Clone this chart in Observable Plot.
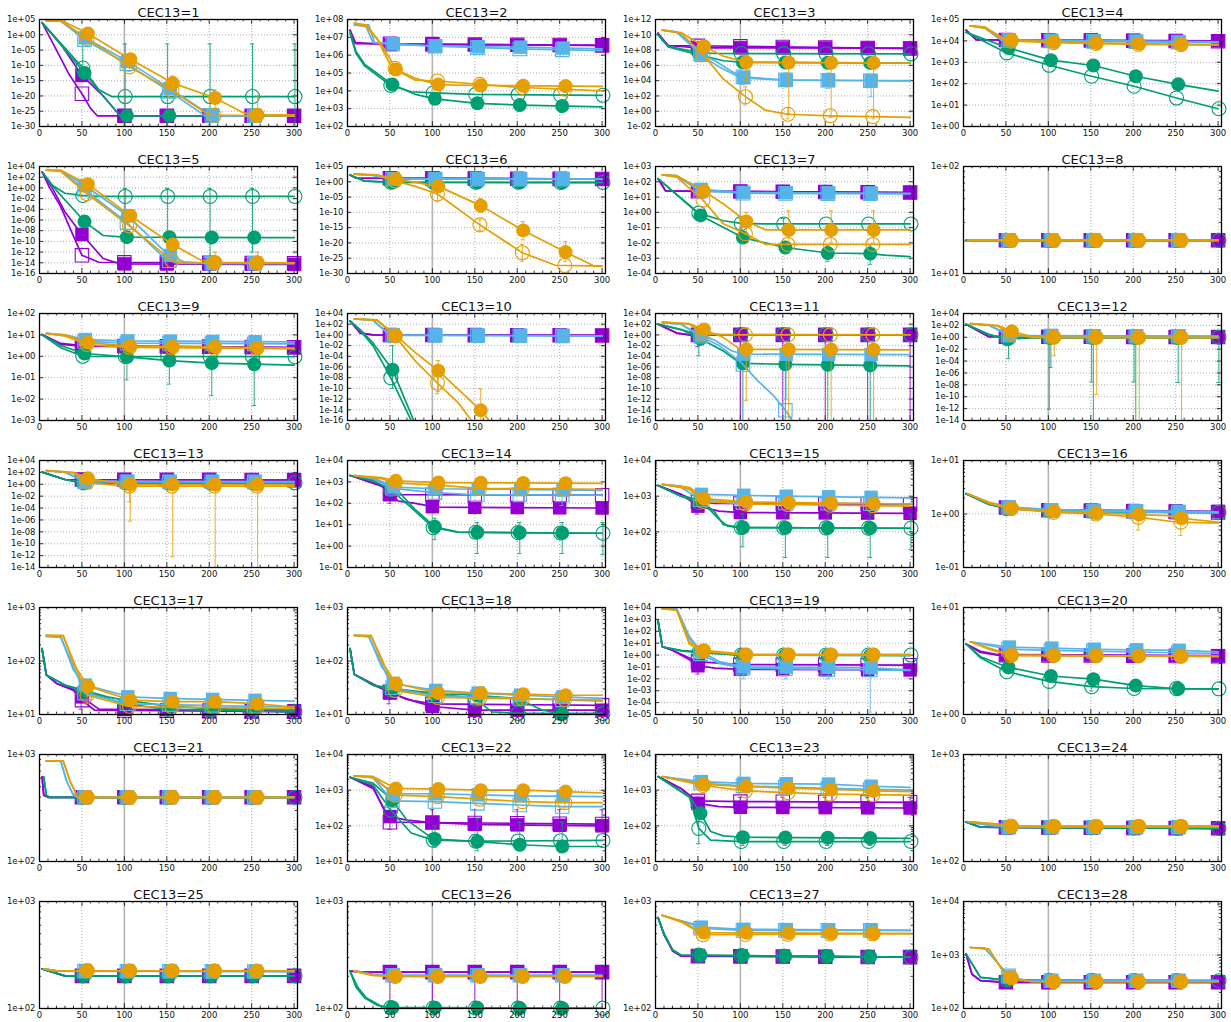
<!DOCTYPE html>
<html><head><meta charset="utf-8">
<script src="https://cdn.jsdelivr.net/npm/d3@7"></script>
<script src="https://cdn.jsdelivr.net/npm/@observablehq/plot@0.6"></script>
<style>
body{margin:0;background:#fff;}
#wrap{position:relative;width:1231px;height:1022px;overflow:hidden;}
#wrap svg{position:absolute;}
</style></head><body><div id="wrap"></div>
<script>
// ---- labels / axes ----
const titles = ["CEC13=1","CEC13=2","CEC13=3","CEC13=4","CEC13=5","CEC13=6","CEC13=7","CEC13=8","CEC13=9","CEC13=10","CEC13=11","CEC13=12","CEC13=13","CEC13=14","CEC13=15","CEC13=16","CEC13=17","CEC13=18","CEC13=19","CEC13=20","CEC13=21","CEC13=22","CEC13=23","CEC13=24","CEC13=25","CEC13=26","CEC13=27","CEC13=28"];
// [lowest exponent, highest exponent, exponent step] of the y tick labels
const yRanges = [[-30,5,5],[2,8,1],[-2,12,2],[0,5,1],[-16,4,2],[-30,5,5],[-4,3,1],[1,2,1],[-3,2,1],[-16,4,2],[-16,4,2],[-14,4,2],[-14,4,2],[-1,4,1],[1,4,1],[-1,1,1],[1,3,1],[1,3,1],[-5,4,1],[0,1,1],[2,3,1],[1,4,1],[1,4,1],[2,3,1],[2,3,1],[2,3,1],[2,3,1],[2,4,1]];
const xTicks = [0,50,100,150,200,250,300];
const seriesKeys = ["P","p","G","g","B","b","O","o"];
const seriesColor = ["#9400d3","#9400d3","#009e73","#009e73","#56b4e9","#56b4e9","#e69f00","#e69f00"];
const seriesShape = ["square","square","circle","circle","square","square","circle","circle"];
const seriesFilled = [true,false,true,false,true,false,true,false];
const markerShift = [0,0,3,1,4,3,7,6];

// ---- data: per panel, 8 series [P,p,G,g,B,b,O,o], each as x, log10(y) pairs ----
const f1 = [
 [3,4, 25,-3, 50,-13.3, 75,-20, 95,-26.5, 300,-26.5],
 [3,4, 20,-5, 35,-13, 50,-19.3, 60,-24, 68,-26.5, 300,-26.5],
 [3,4, 50,-11.5, 75,-20, 95,-26.5, 300,-26.5],
 [3,4, 50,-10.5, 70,-18, 85,-20.2, 300,-20.2],
 [8,4.5, 25,4.5, 54,-1, 104,-8.7, 154,-17.6, 200,-26, 210,-26.5, 300,-26.5],
 [8,4.5, 25,4.5, 53,-1.6, 103,-9.5, 153,-18.5, 195,-26.5, 300,-26.5],
 [8,4.8, 25,4.8, 57,0.4, 107,-8, 157,-15.8, 207,-20.7, 240,-25.5, 257,-26.2, 300,-26.2],
 [8,4.8, 25,4.6, 56,-1.2, 106,-10.5, 156,-18.2, 200,-26.3, 300,-26.5]];
const f2 = [
 [3,7.4, 8,6.7, 50,6.6, 300,6.55],
 [3,7.4, 10,6.65, 300,6.55],
 [3,7.3, 10,6.2, 20,5.5, 53,4.35, 80,3.8, 103,3.55, 153,3.3, 203,3.2, 300,3.1],
 [3,7.2, 10,6.1, 20,5.4, 51,4.3, 75,3.95, 100,3.88, 150,3.8, 300,3.75],
 [8,7.7, 25,7.7, 32,6.7, 55,6.65, 105,6.5, 205,6.45, 300,6.35],
 [8,7.7, 22,7.6, 30,6.7, 55,6.6, 105,6.5, 200,6.35, 300,6.25],
 [8,7.8, 22,7.7, 40,6.6, 50,5.8, 57,5.2, 80,4.7, 107,4.35, 157,4.3, 300,4.25],
 [8,7.8, 22,7.6, 35,6.9, 50,5.5, 60,5.1, 80,4.6, 106,4.55, 200,4.2, 300,4.0]];
const f3 = [
 [3,10.2, 8,9.3, 15,8.6, 50,8.3, 300,8.25],
 [3,10.2, 15,8.6, 300,8.2],
 [3,10, 15,8.4, 50,7.4, 80,6.6, 103,6.4, 300,6.3],
 [3,10, 15,8.5, 50,7.7, 70,7.55, 300,7.5],
 [8,10.6, 25,10.4, 45,8.5, 54,7.3, 75,5.8, 100,4.4, 150,4.05, 300,4.0],
 [8,10.6, 25,10.3, 45,8.3, 53,7.5, 70,6.6, 90,5.2, 103,4.5, 150,4.1, 300,3.95],
 [8,10.6, 30,10.3, 57,8.5, 80,7.2, 100,6.6, 107,6.4, 300,6.3],
 [8,10.6, 30,10.2, 57,7.3, 80,4.2, 106,1.9, 130,0.1, 156,-0.4, 206,-0.6, 300,-0.8]];
const f4 = [
 [3,4.5, 15,4.06, 300,4.0],
 [3,4.5, 15,4.05, 300,3.98],
 [3,4.4, 53,3.67, 103,3.1, 153,2.85, 203,2.35, 253,1.97, 300,1.65],
 [3,4.4, 51,3.44, 101,2.86, 151,2.35, 201,1.88, 251,1.33, 300,0.83],
 [8,4.7, 25,4.65, 45,4.05, 300,3.95],
 [8,4.7, 25,4.6, 45,4.02, 300,3.92],
 [8,4.7, 25,4.65, 50,4.05, 107,3.95, 157,3.9, 207,3.87, 257,3.84, 300,3.83],
 [8,4.7, 25,4.6, 50,4.0, 106,3.92, 206,3.84, 300,3.8]];
const f5 = [
 [3,3, 15,0, 30,-4.5, 50,-8.7, 75,-13.2, 95,-14.2, 300,-14.3],
 [3,3, 12,0, 25,-3.5, 40,-9, 50,-12.6, 70,-13.9, 300,-14.1],
 [3,3, 20,-0.5, 40,-4, 53,-6.3, 75,-8.9, 100,-9.2, 300,-9.3],
 [3,3, 15,0.5, 30,-1, 50,-1.4, 70,-1.6, 300,-1.6],
 [8,3.3, 25,3.3, 54,0.4, 104,-5.2, 150,-12.3, 170,-13.8, 200,-14.1, 300,-14.1],
 [8,3.3, 25,3.2, 53,-0.3, 103,-6.5, 150,-13.5, 165,-14.1, 300,-14.1],
 [8,3.3, 25,3.3, 57,0.7, 107,-5.2, 157,-10.6, 190,-13.5, 207,-13.9, 300,-14],
 [8,3.3, 25,3.1, 56,-1.1, 106,-7.1, 156,-13.6, 170,-14, 300,-14.1]];
const f6 = [
 [3,2.2, 10,1.2, 300,0.9],
 [3,2.2, 10,1.2, 300,0.9],
 [3,2.2, 20,0.2, 50,-0.2, 300,-0.3],
 [3,2.2, 20,0.3, 50,-0.1, 300,-0.2],
 [8,2.5, 30,2.2, 50,1.0, 300,0.9],
 [8,2.5, 30,2.1, 50,0.9, 300,0.85],
 [8,2.5, 35,2.3, 57,0.9, 80,-0.2, 107,-1.5, 157,-7.8, 207,-15.9, 257,-23, 290,-27.5, 300,-27.7],
 [8,2.5, 35,2.2, 56,0.3, 80,-1.5, 106,-4, 156,-14.1, 206,-23.2, 245,-27.3, 300,-27.6]];
const f7 = [
 [3,2.2, 12,1.4, 300,1.3],
 [3,2.2, 12,1.4, 300,1.3],
 [3,2.2, 53,-0.2, 103,-1.65, 153,-2.3, 203,-2.66, 253,-2.7, 270,-2.8, 300,-2.9],
 [3,2.2, 51,-0.05, 80,-0.55, 101,-0.72, 130,-0.76, 300,-0.76],
 [8,2.45, 25,2.4, 54,1.5, 105,1.3, 300,1.25],
 [8,2.45, 25,2.35, 53,1.4, 103,1.25, 300,1.2],
 [8,2.45, 25,2.4, 57,1.4, 80,0.55, 107,-0.6, 130,-1.15, 300,-1.15],
 [8,2.45, 25,2.3, 56,0.8, 80,-0.75, 106,-1.4, 130,-2.1, 300,-2.1]];
const f8 = [
 [3,1.31, 300,1.31], [3,1.31, 300,1.31], [3,1.31, 300,1.31], [3,1.31, 300,1.31],
 [5,1.31, 300,1.31], [5,1.31, 300,1.31], [5,1.31, 300,1.31], [5,1.31, 300,1.31]];
const f9 = [
 [3,1.02, 25,0.56, 50,0.48, 100,0.45, 300,0.4],
 [3,1.02, 25,0.6, 50,0.5, 300,0.42],
 [3,1.0, 25,0.5, 53,0.13, 103,-0.03, 153,-0.2, 203,-0.32, 253,-0.37, 300,-0.41],
 [3,1.0, 25,0.4, 51,0.0, 300,-0.02],
 [8,1.07, 30,1.0, 54,0.78, 104,0.72, 300,0.67],
 [8,1.07, 30,0.95, 53,0.7, 103,0.62, 300,0.58],
 [8,1.07, 30,1.0, 57,0.64, 107,0.48, 157,0.45, 207,0.43, 257,0.4, 300,0.38],
 [8,1.07, 30,0.95, 56,0.55, 106,0.42, 300,0.35]];
const f10 = [
 [3,2.6, 15,0.4, 30,0, 300,-0.1],
 [3,2.6, 15,0.3, 30,0, 300,-0.1],
 [3,2.6, 15,1, 30,-1.5, 53,-6.5, 78,-16, 90,-20],
 [3,2.6, 15,0.8, 30,-2, 51,-8, 75,-16, 85,-20],
 [8,3, 30,2.8, 50,0, 300,-0.2],
 [8,3, 30,2.7, 50,-0.1, 300,-0.2],
 [8,3, 35,2.8, 57,-0.1, 80,-3.3, 107,-6.7, 130,-10.1, 157,-14.1, 167,-16, 180,-18],
 [8,3, 35,2.7, 56,-0.2, 80,-4.9, 106,-9, 130,-12.6, 146,-16, 160,-18]];
const f11 = [
 [3,2, 25,0.4, 40,0, 300,0],
 [3,2, 25,0.3, 40,0, 300,0],
 [3,2, 30,1, 50,-0.5, 80,-3, 100,-5.3, 153,-5.5, 300,-5.8],
 [3,2, 30,1, 50,0.1, 300,0],
 [8,2.3, 30,2, 50,0.2, 70,-1, 90,-3, 104,-3.6, 300,-3.7],
 [8,2.3, 30,2, 50,0, 75,-2, 100,-5, 120,-8.5, 140,-11.5, 155,-14.5, 165,-17],
 [8,2.4, 40,2.1, 57,1.0, 80,-0.5, 100,-2.7, 300,-2.8],
 [8,2.4, 40,2, 56,0.3, 80,0, 300,0]];
const f12 = [
 [3,2.2, 30,0.1, 300,0.05],
 [3,2.2, 30,0.1, 300,0.05],
 [3,2.2, 30,0.5, 50,-0.3, 80,-0.1, 300,-0.1],
 [3,2.2, 30,0.4, 50,-0.2, 80,0, 300,0],
 [8,2.3, 30,2.1, 55,0.3, 300,0.2],
 [8,2.3, 30,2, 55,0.2, 300,0.15],
 [8,2.3, 40,2, 57,1.0, 80,0.1, 100,0, 300,0],
 [8,2.3, 40,1.9, 56,0.6, 80,0, 300,-0.05]];
const f13 = [
 [3,2.05, 30,0.8, 300,0.7],
 [3,2.05, 30,0.8, 300,0.7],
 [3,2.05, 30,0.8, 50,0.15, 300,0.1],
 [3,2.05, 30,0.8, 50,0.3, 300,0.25],
 [8,2.3, 30,2.1, 54,0.5, 300,0.45],
 [8,2.3, 30,2, 53,0.45, 300,0.4],
 [8,2.3, 40,2, 57,1.0, 100,0, 300,-0.05],
 [8,2.3, 40,1.9, 56,0.3, 100,-0.3, 300,-0.3]];
const f14 = [
 [3,3.3, 40,2.85, 50,2.4, 60,2.1, 80,2.0, 103,1.82, 300,1.78],
 [3,3.3, 40,2.8, 50,2.45, 60,2.4, 300,2.38],
 [3,3.3, 30,3.1, 53,2.85, 80,1.7, 103,0.9, 130,0.65, 300,0.6],
 [3,3.3, 30,3.05, 51,2.65, 75,1.8, 101,0.86, 130,0.65, 300,0.6],
 [8,3.3, 30,3.2, 54,2.76, 104,2.68, 300,2.6],
 [8,3.3, 30,3.15, 53,2.7, 103,2.5, 150,2.4, 300,2.38],
 [8,3.3, 40,3.2, 57,3.05, 107,2.97, 300,2.93],
 [8,3.3, 40,3.15, 56,2.95, 106,2.85, 156,2.7, 300,2.65]];
const f15 = [
 [3,3.3, 30,3.05, 50,2.72, 75,2.58, 100,2.54, 300,2.52],
 [3,3.3, 30,3.05, 49,2.85, 70,2.8, 300,2.77],
 [3,3.3, 30,3.0, 50,2.91, 60,2.72, 75,2.35, 85,2.16, 100,2.12, 300,2.1],
 [3,3.3, 30,3.0, 51,2.82, 60,2.75, 70,2.55, 80,2.2, 100,2.12, 300,2.1],
 [8,3.33, 30,3.28, 54,3.05, 150,3.0, 300,2.95],
 [8,3.33, 30,3.25, 53,2.9, 100,2.82, 300,2.78],
 [8,3.33, 40,3.25, 57,2.93, 107,2.84, 300,2.78],
 [8,3.33, 40,3.2, 56,2.85, 106,2.78, 300,2.72]];
const f16 = [
 [3,0.38, 30,0.2, 50,0.12, 100,0.08, 300,0.05],
 [3,0.38, 30,0.2, 50,0.12, 100,0.07, 300,0.03],
 [3,0.38, 30,0.18, 53,0.1, 103,0.05, 300,0.02],
 [3,0.38, 30,0.18, 51,0.1, 101,0.06, 300,0.03],
 [5,0.38, 30,0.22, 54,0.13, 104,0.08, 300,0.04],
 [5,0.38, 30,0.2, 53,0.12, 103,0.06, 300,0.02],
 [5,0.38, 30,0.22, 57,0.11, 107,0.05, 157,0.02, 207,-0.01, 240,-0.03, 257,-0.08, 300,-0.15],
 [5,0.38, 30,0.2, 56,0.1, 106,0.03, 156,0.0, 206,-0.06, 250,-0.15, 300,-0.17]];
const f17 = [
 [3,2.23, 8,1.74, 20,1.58, 40,1.47, 50,1.33, 70,1.1, 300,1.07],
 [3,2.23, 8,1.74, 20,1.58, 40,1.45, 49,1.28, 65,1.08, 300,1.05],
 [3,2.23, 8,1.74, 30,1.55, 53,1.45, 80,1.33, 100,1.27, 150,1.16, 200,1.11, 300,1.08],
 [3,2.23, 8,1.74, 30,1.55, 51,1.43, 80,1.3, 100,1.2, 150,1.1, 300,1.05],
 [8,2.46, 25,2.46, 40,1.83, 54,1.55, 100,1.36, 104,1.33, 150,1.3, 300,1.25],
 [8,2.46, 25,2.44, 40,1.9, 53,1.4, 103,1.2, 300,1.14],
 [8,2.48, 28,2.48, 40,1.95, 57,1.53, 107,1.27, 157,1.24, 207,1.24, 257,1.2, 300,1.14],
 [8,2.48, 28,2.46, 40,2.0, 56,1.36, 106,1.15, 300,1.11]];
const f18 = [
 [3,2.23, 8,1.75, 40,1.49, 50,1.4, 80,1.24, 100,1.15, 150,1.08, 300,1.08],
 [3,2.23, 8,1.75, 30,1.55, 49,1.43, 70,1.28, 100,1.2, 300,1.17],
 [3,2.23, 8,1.75, 30,1.55, 53,1.49, 100,1.4, 150,1.36, 200,1.3, 230,1.08, 253,1.01, 300,1.0],
 [3,2.23, 8,1.75, 30,1.55, 51,1.46, 101,1.39, 150,1.3, 170,1.05, 201,1.02, 300,1.02],
 [8,2.48, 25,2.47, 40,1.9, 54,1.58, 104,1.45, 154,1.4, 204,1.36, 254,1.33, 300,1.3],
 [8,2.48, 25,2.45, 40,1.95, 53,1.5, 103,1.35, 300,1.25],
 [8,2.48, 28,2.48, 40,2.0, 57,1.58, 107,1.4, 157,1.4, 207,1.38, 257,1.36, 300,1.36],
 [8,2.48, 28,2.46, 40,2.05, 56,1.45, 106,1.32, 300,1.27]];
const f19 = [
 [3,2.9, 8,0.7, 20,0.4, 40,-0.4, 50,-0.9, 70,-1.1, 100,-1.2, 300,-1.25],
 [3,2.9, 8,0.7, 20,0.4, 49,-0.55, 100,-0.8, 300,-0.85],
 [3,2.9, 8,0.7, 30,0.4, 53,0.27, 100,0, 300,-0.05],
 [3,2.9, 8,0.7, 30,0.35, 51,0.2, 100,0, 300,0],
 [8,3.9, 25,3.9, 40,1.55, 54,0.27, 75,-0.55, 104,-1.0, 250,-1.05, 300,-1.27],
 [8,3.9, 25,3.85, 40,1.4, 53,0.1, 75,-0.7, 103,-1.1, 300,-1.3],
 [8,3.9, 25,3.8, 40,1.1, 57,0.4, 107,0.05, 300,0.05],
 [8,3.9, 25,3.75, 40,0.9, 56,0.3, 106,0, 300,0]];
const f20 = [
 [3,0.66, 20,0.59, 40,0.56, 300,0.55],
 [3,0.66, 20,0.58, 40,0.555, 300,0.545],
 [3,0.66, 20,0.54, 53,0.44, 103,0.36, 153,0.33, 203,0.27, 253,0.24, 300,0.24],
 [3,0.66, 20,0.53, 51,0.4, 101,0.31, 151,0.26, 201,0.243, 300,0.24],
 [8,0.68, 54,0.63, 104,0.62, 154,0.61, 254,0.6, 300,0.585],
 [8,0.68, 53,0.61, 103,0.6, 300,0.57],
 [8,0.68, 30,0.62, 57,0.555, 300,0.54],
 [8,0.68, 30,0.61, 56,0.55, 300,0.545]];
const f21 = [
 [3,2.79, 5,2.62, 10,2.6, 300,2.6],
 [3,2.79, 5,2.62, 10,2.6, 300,2.6],
 [5,2.79, 8,2.62, 12,2.6, 300,2.6],
 [5,2.79, 8,2.62, 12,2.6, 300,2.6],
 [8,2.94, 25,2.94, 32,2.75, 40,2.62, 45,2.6, 300,2.6],
 [8,2.94, 25,2.94, 32,2.75, 40,2.62, 45,2.6, 300,2.6],
 [8,2.94, 28,2.94, 36,2.75, 45,2.6, 300,2.6],
 [8,2.94, 28,2.94, 36,2.75, 45,2.6, 300,2.6]];
const f22 = [
 [3,3.36, 30,3.1, 45,2.35, 50,2.26, 70,2.16, 100,2.09, 150,2.04, 300,2.0],
 [3,3.36, 30,3.05, 45,2.4, 49,2.1, 60,2.1, 300,2.05],
 [3,3.36, 30,3.2, 53,2.72, 70,2.16, 100,1.65, 103,1.63, 153,1.56, 203,1.47, 253,1.42, 300,1.42],
 [3,3.36, 30,3.15, 51,2.44, 75,1.8, 101,1.6, 151,1.57, 300,1.59],
 [8,3.4, 30,3.38, 54,2.9, 104,2.9, 204,2.84, 300,2.82],
 [8,3.4, 30,3.35, 53,2.7, 103,2.68, 153,2.63, 253,2.54, 300,2.54],
 [8,3.4, 30,3.38, 57,3.05, 107,3.03, 157,3.0, 207,3.0, 257,2.96, 300,2.92],
 [8,3.4, 30,3.35, 56,2.86, 106,2.82, 156,2.75, 206,2.68, 256,2.65, 300,2.65]];
const f23 = [
 [3,3.38, 30,3.05, 50,2.63, 75,2.54, 100,2.52, 300,2.5],
 [3,3.38, 30,3.05, 49,2.7, 100,2.68, 300,2.66],
 [3,3.38, 40,2.82, 53,2.35, 65,1.84, 80,1.72, 103,1.68, 300,1.65],
 [3,3.38, 40,2.8, 51,1.93, 65,1.6, 101,1.56, 300,1.56],
 [8,3.38, 54,3.24, 104,3.19, 204,3.17, 254,3.11, 300,3.08],
 [8,3.38, 53,3.2, 103,3.12, 203,3.05, 300,3.0],
 [8,3.38, 57,3.16, 107,3.1, 157,3.06, 207,3.02, 257,2.98, 300,2.96],
 [8,3.38, 56,3.13, 106,2.98, 156,2.93, 206,2.89, 300,2.86]];
const f24 = [
 [3,2.37, 20,2.32, 300,2.31], [3,2.37, 20,2.32, 300,2.31],
 [3,2.37, 20,2.32, 300,2.31], [3,2.37, 20,2.32, 300,2.31],
 [5,2.37, 30,2.34, 54,2.32, 300,2.32], [5,2.37, 30,2.34, 54,2.32, 300,2.32],
 [8,2.37, 40,2.35, 57,2.33, 300,2.33], [8,2.37, 40,2.35, 57,2.33, 300,2.33]];
const f25 = [
 [3,2.37, 30,2.305, 300,2.305], [3,2.37, 30,2.305, 300,2.305],
 [3,2.37, 30,2.305, 300,2.305], [3,2.37, 30,2.305, 300,2.305],
 [5,2.37, 20,2.35, 300,2.345], [5,2.37, 20,2.35, 300,2.345],
 [5,2.37, 20,2.355, 300,2.35], [5,2.37, 20,2.355, 300,2.35]];
const f26 = [
 [3,2.35, 20,2.34, 300,2.34], [3,2.35, 20,2.34, 300,2.34],
 [3,2.35, 10,2.2, 20,2.1, 35,2.03, 50,2.01, 300,2.0],
 [3,2.35, 12,2.2, 22,2.1, 40,2.02, 55,2.005, 300,2.003],
 [8,2.35, 30,2.32, 54,2.31, 300,2.31], [8,2.35, 30,2.32, 54,2.31, 300,2.31],
 [8,2.35, 30,2.31, 57,2.3, 300,2.3], [8,2.35, 30,2.31, 57,2.3, 300,2.3]];
const f27 = [
 [3,2.85, 10,2.69, 20,2.54, 30,2.49, 300,2.48], [3,2.85, 10,2.69, 20,2.54, 30,2.49, 300,2.48],
 [3,2.85, 10,2.7, 20,2.55, 30,2.5, 300,2.48], [3,2.85, 10,2.7, 20,2.55, 30,2.5, 300,2.48],
 [8,2.87, 25,2.83, 45,2.79, 54,2.76, 104,2.74, 300,2.73], [8,2.87, 25,2.83, 45,2.78, 53,2.75, 103,2.73, 300,2.73],
 [8,2.87, 30,2.82, 50,2.73, 57,2.71, 300,2.7], [8,2.87, 30,2.81, 50,2.72, 56,2.69, 300,2.7]];
const f28 = [
 [3,3.02, 10,2.64, 20,2.52, 50,2.49, 300,2.49], [3,3.02, 10,2.64, 20,2.52, 50,2.49, 300,2.49],
 [3,3.02, 20,2.58, 50,2.53, 300,2.52], [3,3.02, 20,2.58, 50,2.53, 300,2.52],
 [8,3.14, 25,3.13, 50,2.67, 54,2.59, 75,2.52, 300,2.52], [8,3.14, 25,3.13, 50,2.67, 54,2.59, 75,2.52, 300,2.52],
 [8,3.14, 30,3.11, 50,2.61, 57,2.57, 80,2.5, 300,2.5], [8,3.14, 30,3.11, 50,2.61, 57,2.57, 80,2.5, 300,2.5]];

// ---- error bars: [series, x, log10(low), log10(high)] ----
const e1 = [["g",51,-14,-0.5],["g",101,-30,-3],["g",151,-30,-3],["g",201,-30,-3],["g",251,-30,-3],["g",301,-30,-3],["O",157,-18,-13.5],["O",207,-24,-18],["O",257,-28,-20],["o",106,-12,-9]];
const e2 = [["G",153,3.0,3.5],["G",203,2.85,3.5],["G",253,2.8,3.4],["O",257,3.9,4.4]];
const e3 = [["O",107,4,7.3],["O",157,-0.3,6.6],["O",207,-0.8,6.6],["O",257,-1,6.7],["o",106,0.8,3.2],["o",156,-1,0.5],["B",104,3.5,5],["B",154,3.2,5],["B",204,3,5],["B",254,1.9,4.8]];
const e4 = [];
const e5 = [["g",101,-9,-0.1],["g",151,-16,-0.1],["g",201,-16,-0.1],["g",251,-12,-0.1],["O",207,-14.3,-12],["O",257,-14.3,-12]];
const e6 = [["O",157,-10,-5.5],["O",207,-19,-13],["O",257,-26,-19.5],["o",106,-6.5,-2.5],["o",156,-16,-12.5],["o",206,-26,-20.5]];
const e7 = [["O",107,-1.4,0],["O",157,-2,0.1],["O",207,-2,0.1],["O",257,-2,0.1],["G",153,-2.7,-1.9],["G",203,-3.2,-2.2],["G",253,-3.4,-2.2],["g",101,-1.1,-0.4],["g",151,-1.1,-0.4]];
const e8 = [];
const e9 = [["G",103,-1.1,0.2],["G",153,-1.3,0.1],["G",203,-1.84,0],["G",253,-2.3,0],["O",107,0.3,0.6]];
const e10 = [["G",53,-10,-2],["O",107,-10.6,-4.8],["O",157,-16,-10.1],["o",106,-11,-7.5]];
const e11 = [["P",50,-2.2,0.3],["P",100,-30,0.3],["P",150,-30,0.3],["P",200,-30,0.3],["P",250,-30,0.3],["P",300,-30,0.3],["G",103,-30,-4.8],["G",153,-30,-4.8],["G",203,-30,-4.8],["G",253,-30,-4.8],["O",107,-12.3,-2],["O",157,-30,-2.3],["O",207,-30,-2.3],["O",257,-30,-2.3],["g",51,-3.9,-0.5],["B",154,-12,-3]];
const e12 = [["G",53,-3.6,0],["G",103,-5.1,0],["G",153,-30,0],["G",203,-30,0],["G",253,-7.6,0],["g",101,-12.1,0],["g",151,-7.5,0],["g",201,-7.5,0],["g",301,-7.6,0],["O",107,-3.1,0],["O",157,-9.6,0],["O",207,-30,0],["O",257,-30,0]];
const e13 = [["O",107,-6.2,0],["O",157,-12.2,0],["O",207,-30,0],["O",257,-30,0],["o",106,-3,0]];
const e14 = [["G",103,0.3,1.3],["G",153,-0.35,1.1],["G",203,-0.35,1.1],["G",253,-0.35,1.1],["g",301,-0.4,1.1],["P",50,2.0,2.7],["b",253,1.9,2.5]];
const e15 = [["G",103,1.58,2.5],["G",153,1.28,2.5],["G",203,1.28,2.5],["G",253,1.28,2.5],["g",301,1.5,2.5],["p",49,2.5,2.9]];
const e16 = [["o",156,-0.1,0.05],["o",206,-0.3,0.0],["o",256,-0.4,-0.05]];
const e17 = [["p",49,1.1,1.45],["o",56,1.2,1.5]];
const e18 = [["p",49,1.2,1.5],["o",156,1.2,1.45],["o",206,1.2,1.45],["o",256,1.2,1.45]];
const e19 = [["b",253,-4.8,-0.8],["P",50,-1.6,-0.7],["B",104,-2,-0.5],["B",154,-2,-0.5],["B",204,-2,-0.5]];
const e20 = [["G",203,0.22,0.32],["G",253,0.22,0.31],["g",151,0.22,0.3]];
const e21 = [];
const e22 = [["P",50,1.9,2.6],["P",100,1.95,2.45],["P",150,1.95,2.45],["P",200,1.95,2.45],["P",250,1.95,2.45],["P",300,1.95,2.45],["G",103,1.4,2.0],["G",153,1.3,2.2],["G",203,1.3,2.1],["G",253,1.3,2.1],["o",256,2.5,2.8]];
const e23 = [["P",50,2.5,2.8],["P",100,2.4,2.8],["P",150,2.4,2.8],["P",200,2.4,2.8],["P",250,2.4,2.8],["P",300,2.4,2.8],["g",51,1.5,2.3],["G",103,1.45,1.75],["G",153,1.45,1.75],["G",203,1.45,1.75],["G",253,1.45,1.75]];
const e24 = [];
const e25 = [];
const e26 = [["P",50,2.065,2.33],["P",100,2.065,2.33],["P",150,2.065,2.33],["P",200,2.065,2.33],["P",250,2.065,2.33],["P",300,2.065,2.33]];
const e27 = [];
const e28 = [];

const panelSeries = [f1,f2,f3,f4,f5,f6,f7,f8,f9,f10,f11,f12,f13,f14,f15,f16,f17,f18,f19,f20,f21,f22,f23,f24,f25,f26,f27,f28];
const panelErrors = [e1,e2,e3,e4,e5,e6,e7,e8,e9,e10,e11,e12,e13,e14,e15,e16,e17,e18,e19,e20,e21,e22,e23,e24,e25,e26,e27,e28];

// ---- helpers ----
function toPoints(flat){ const out=[]; for(let i=0;i<flat.length;i+=2) out.push({x:flat[i], v:flat[i+1]}); return out; }
function interp(pts, x){
  if (x < pts[0].x) return null;
  const last = pts[pts.length-1];
  if (x > last.x + 2) return null;
  if (x >= last.x) return last.v;
  for (let i=0;i<pts.length-1;i++){
    const a=pts[i], b=pts[i+1];
    if (x>=a.x && x<=b.x) return a.v + (b.v-a.v)*(x-a.x)/(b.x-a.x);
  }
  return null;
}
function fmtExp(d){ const e=Math.round(Math.log10(d)); return "1e"+(e<0?"-":"+")+String(Math.abs(e)).padStart(2,"0"); }

const XMAX = 304;
const wrap = document.getElementById("wrap");

for (let i=0;i<28;i++){
  const [lo,hi,step] = yRanges[i];
  const yt=[]; for(let k=lo;k<=hi;k+=step) yt.push(Math.pow(10,k));
  const minor=[];
  if (step===1 && hi-lo<=3) for(let k=lo;k<hi;k++) for(let m=2;m<=9;m++) minor.push(m*Math.pow(10,k));
  const ymin=Math.pow(10,lo), ymax=Math.pow(10,hi);
  const yAt = f => Math.pow(10, lo+(hi-lo)*f);
  const xMinor=[]; for(let x=10;x<300;x+=10) if(x%50) xMinor.push(x);

  const marks = [
    Plot.ruleY(yt.slice(1,-1), {y:d=>d, stroke:"#9a9a9a", strokeWidth:0.8, strokeDasharray:"1,2"}),
    Plot.ruleX([50,150,200,250,300], {x:d=>d, stroke:"#9a9a9a", strokeWidth:0.8, strokeDasharray:"1,2"}),
    Plot.ruleX([100], {x:d=>d, stroke:"#b4b4b4", strokeWidth:1.6}),
    Plot.ruleY(yt, {y:d=>d, x1:0, x2:5, stroke:"black", strokeWidth:0.8}),
    Plot.ruleY(yt, {y:d=>d, x1:XMAX-5, x2:XMAX, stroke:"black", strokeWidth:0.8}),
    Plot.ruleY(minor, {y:d=>d, x1:0, x2:2.5, stroke:"black", strokeWidth:0.8}),
    Plot.ruleY(minor, {y:d=>d, x1:XMAX-2.5, x2:XMAX, stroke:"black", strokeWidth:0.8}),
    Plot.ruleX(xTicks, {x:d=>d, y1:ymin, y2:yAt(0.045), stroke:"black", strokeWidth:0.8}),
    Plot.ruleX(xTicks, {x:d=>d, y1:yAt(0.955), y2:ymax, stroke:"black", strokeWidth:0.8}),
    Plot.ruleX(xMinor, {x:d=>d, y1:ymin, y2:yAt(0.022), stroke:"black", strokeWidth:0.8}),
    Plot.ruleX(xMinor, {x:d=>d, y1:yAt(0.978), y2:ymax, stroke:"black", strokeWidth:0.8})
  ];

  const series = panelSeries[i];
  const errs = panelErrors[i];
  for (let s=0;s<8;s++){
    const pts = toPoints(series[s]);
    const col = seriesColor[s];
    marks.push(Plot.line(pts, {x:"x", y:d=>Math.pow(10,d.v), stroke:col, strokeWidth:1.7, clip:true}));
    const eb = errs.filter(e=>e[0]===seriesKeys[s]).map(e=>({x:e[1], lo:Math.pow(10,e[2]), hi:Math.pow(10,e[3])}));
    if (eb.length){
      marks.push(Plot.ruleX(eb, {x:"x", y1:"lo", y2:"hi", stroke:col, strokeWidth:1, strokeOpacity:0.85, clip:true}));
      marks.push(Plot.ruleY(eb, {y:"lo", x1:d=>d.x-2.5, x2:d=>d.x+2.5, stroke:col, strokeWidth:1, strokeOpacity:0.85, clip:true}));
      marks.push(Plot.ruleY(eb, {y:"hi", x1:d=>d.x-2.5, x2:d=>d.x+2.5, stroke:col, strokeWidth:1, strokeOpacity:0.85, clip:true}));
    }
    const mk=[];
    for (let x=50+markerShift[s]; x<=301.5; x+=50){
      const v = interp(pts, x);
      if (v===null || v<lo || v>hi) continue;
      mk.push({x, y:Math.pow(10,v)});
    }
    const isSq = seriesShape[s]==="square";
    marks.push(Plot.dot(mk, {x:"x", y:"y", symbol:seriesShape[s], r:isSq?7.6:7,
      fill: seriesFilled[s]?col:"none", stroke: seriesFilled[s]?"none":col, strokeWidth:1.1}));
  }

  marks.push(Plot.frame({stroke:"black", strokeWidth:1.3}));
  marks.push(Plot.axisY({ticks:yt, tickFormat:fmtExp, tickSize:0, tickPadding:4, fontSize:8.5, label:null}));
  marks.push(Plot.axisX({ticks:xTicks, tickFormat:d=>String(d), tickSize:0, tickPadding:3, fontSize:8.5, label:null}));
  marks.push(Plot.text([titles[i]], {text:d=>d, frameAnchor:"top", lineAnchor:"bottom", dy:-3, fontSize:13}));

  const svg = Plot.plot({
    width:308, height:147,
    marginTop:19, marginBottom:21, marginLeft:39, marginRight:11,
    style:{fontFamily:"DejaVu Sans, sans-serif", fontSize:"9px", background:"transparent", color:"#111"},
    x:{domain:[0,XMAX], label:null},
    y:{type:"log", domain:[ymin,ymax], label:null},
    marks
  });
  const col = i%4, row = Math.floor(i/4);
  svg.style.left = (col*308)+"px";
  svg.style.top = (row*147)+"px";
  wrap.appendChild(svg);
}
</script></body></html>
